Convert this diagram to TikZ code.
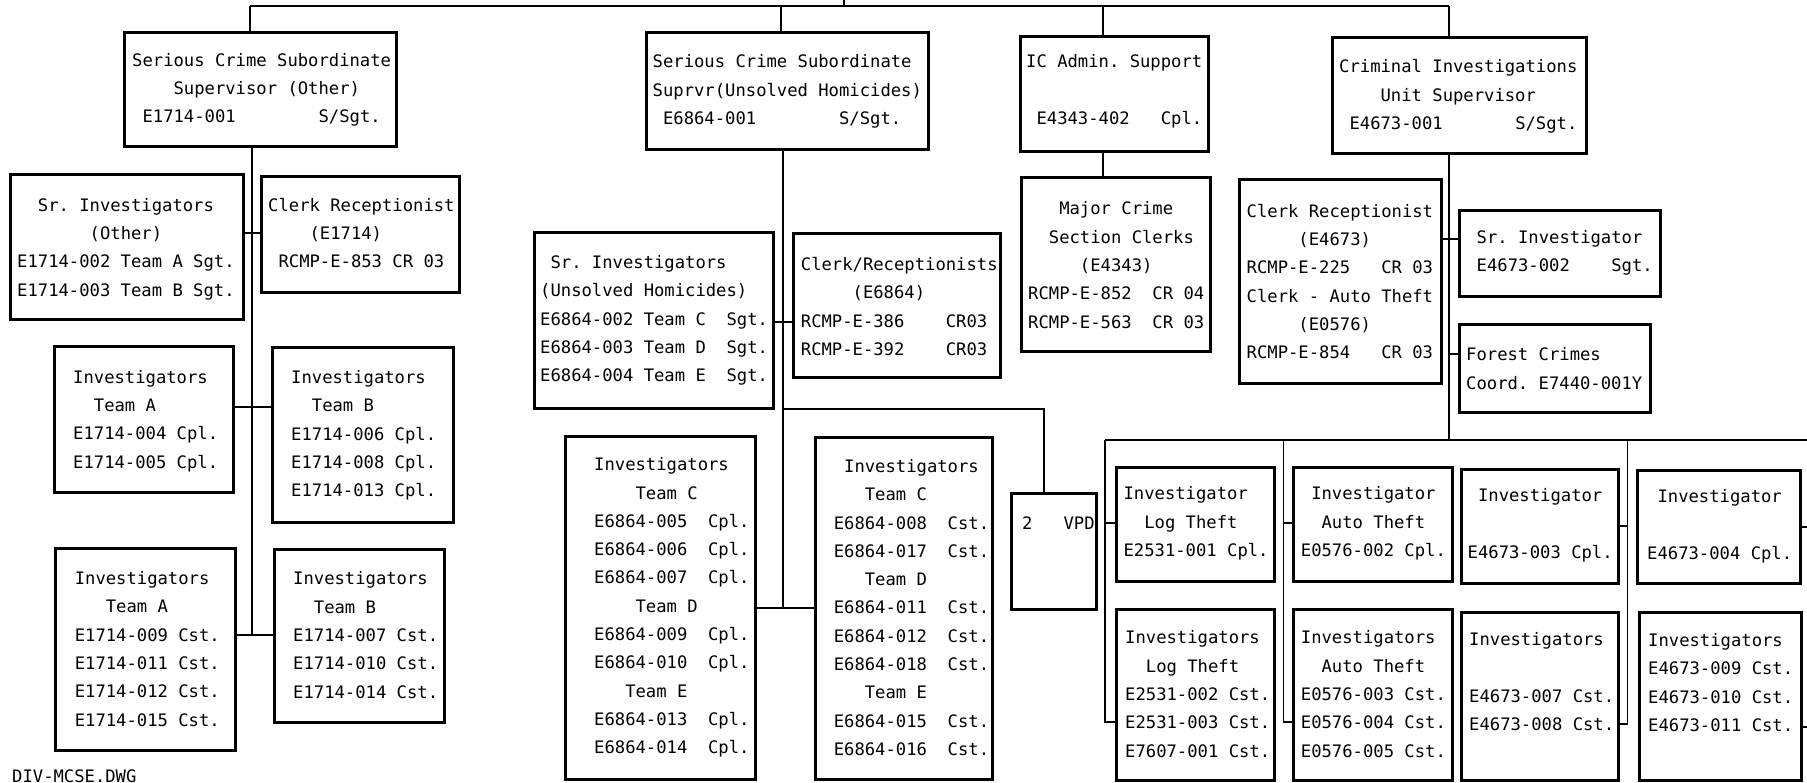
\documentclass[tikz,border=0pt]{standalone}
\usepackage{fontspec}
\newfontfamily\zmono{DejaVu Sans Mono}
\newcommand\zfnt{\zmono\fontsize{17.2}{28.3}\selectfont\frenchspacing}
\tikzset{
  bx/.style={draw, line width=3pt, inner sep=0pt, outer sep=0pt},
  tx/.style={anchor=west, align=left, inner sep=0pt, font=\zfnt},
  ln/.style={line width=1.2pt},
}
\newcommand\zbox[5]{%
  \pgfmathsetmacro\zbw{#4-#2}\pgfmathsetmacro\zbh{#5-#3}%
  \node[bx, minimum width=\zbw pt, minimum height=\zbh pt] (#1) at ({(#2+#4)/2},{(#3+#5)/2}) {};}
\newcommand\ztext[4]{\node[tx] (#1) at (#2,#3) {#4};}
\begin{document}
\begin{tikzpicture}[x=1pt,y=-1pt]
\useasboundingbox (0,0) rectangle (1807,783);
\fill[white] (0,0) rectangle (1807,783);

% ---------- boxes ----------
\zbox{sc1}{124}{33}{396}{147}
\zbox{sri1}{10}{175}{243}{320}
\zbox{clk1}{261}{177}{459}{293}
\zbox{ta1}{54}{347}{233}{492}
\zbox{tb1}{272}{348}{453}{522}
\zbox{ta2}{55}{548}{235}{750}
\zbox{tb2}{274}{549}{444}{722}
\zbox{sc2}{646}{33}{928}{150}
\zbox{sri2}{534}{233}{773}{408}
\zbox{clk2}{793}{234}{1000}{378}
\zbox{tc1}{565}{436}{755}{779}
\zbox{tc2}{815}{437}{992}{779}
\zbox{vpd}{1011}{493}{1096}{609}
\zbox{ic}{1020}{37}{1208}{152}
\zbox{mc}{1021}{178}{1210}{352}
\zbox{cis}{1332}{38}{1586}{154}
\zbox{clk3}{1239}{180}{1441}{384}
\zbox{sri3}{1459}{211}{1660}{297}
\zbox{fc}{1459}{325}{1650}{412}
\zbox{lt1}{1116}{467}{1274}{581}
\zbox{lt2}{1116}{609}{1274}{780}
\zbox{at1}{1293}{467}{1452}{581}
\zbox{at2}{1293}{609}{1452}{780}
\zbox{iva}{1461}{469}{1618}{583}
\zbox{ivb}{1461}{612}{1618}{780}
\zbox{iwa}{1637}{470}{1800}{583}
\zbox{iwb}{1639}{612}{1801}{780}

% ---------- texts ----------
\ztext{sc1t}{132}{90}{Serious Crime Subordinate\\~~~~Supervisor (Other)\\~E1714-001~~~~~~~~S/Sgt.}
\ztext{sri1t}{17}{249}{~~Sr. Investigators\\~~~~~~~(Other)\\E1714-002 Team A Sgt.\\E1714-003 Team B Sgt.}
\ztext{clk1t}{268}{233}{Clerk Receptionist\\~~~~(E1714)\\~RCMP-E-853 CR 03}
\ztext{ta1t}{73}{421}{Investigators\\~~Team A\\E1714-004 Cpl.\\E1714-005 Cpl.}
\ztext{tb1t}{291}{435.5}{Investigators\\~~Team B\\E1714-006 Cpl.\\E1714-008 Cpl.\\E1714-013 Cpl.}
\ztext{ta2t}{74.6}{649}{Investigators\\~~~Team A\\E1714-009 Cst.\\E1714-011 Cst.\\E1714-012 Cst.\\E1714-015 Cst.}
\ztext{tb2t}{293}{635}{Investigators\\~~Team B\\E1714-007 Cst.\\E1714-010 Cst.\\E1714-014 Cst.}
\ztext{sc2t}{652.5}{91.5}{Serious Crime Subordinate\\Suprvr(Unsolved Homicides)\\~E6864-001~~~~~~~~S/Sgt.}
\ztext{sri2t}{540}{320.5}{~Sr. Investigators\\(Unsolved Homicides)\\E6864-002 Team C~~Sgt.\\E6864-003 Team D~~Sgt.\\E6864-004 Team E~~Sgt.}
\ztext{clk2t}{800.7}{306.5}{Clerk/Receptionists\\~~~~~(E6864)\\RCMP-E-386~~~~CR03\\RCMP-E-392~~~~CR03}
\ztext{tc1t}{594}{607.5}{Investigators\\~~~~Team C\\E6864-005~~Cpl.\\E6864-006~~Cpl.\\E6864-007~~Cpl.\\~~~~Team D\\E6864-009~~Cpl.\\E6864-010~~Cpl.\\~~~Team E\\E6864-013~~Cpl.\\E6864-014~~Cpl.}
\ztext{tc2t}{833.6}{607.5}{~Investigators\\~~~Team C\\E6864-008~~Cst.\\E6864-017~~Cst.\\~~~Team D\\E6864-011~~Cst.\\E6864-012~~Cst.\\E6864-018~~Cst.\\~~~Team E\\E6864-015~~Cst.\\E6864-016~~Cst.}
\ztext{vpdt}{1022}{523}{2~~~VPD}
\ztext{ict}{1026}{91.5}{IC Admin. Support\\[28.3pt]~E4343-402~~~Cpl.}
\ztext{mct}{1028}{265}{~~~Major Crime\\~~Section Clerks\\~~~~~(E4343)\\RCMP-E-852~~CR 04\\RCMP-E-563~~CR 03}
\ztext{cist}{1339}{96.5}{Criminal Investigations\\~~~~Unit Supervisor\\~E4673-001~~~~~~~S/Sgt.}
\ztext{clk3t}{1246.5}{281.5}{Clerk Receptionist\\~~~~~(E4673)\\RCMP-E-225~~~CR 03\\Clerk - Auto Theft\\~~~~~(E0576)\\RCMP-E-854~~~CR 03}
\ztext{sri3t}{1476.5}{253}{Sr. Investigator\\E4673-002~~~~Sgt.}
\ztext{fct}{1466}{368.5}{Forest Crimes\\Coord. E7440-001Y}
\ztext{lt1t}{1123.4}{523.5}{Investigator\\~~Log Theft\\E2531-001 Cpl.}
\ztext{lt2t}{1125}{694}{Investigators\\~~Log Theft\\E2531-002 Cst.\\E2531-003 Cst.\\E7607-001 Cst.}
\ztext{at1t}{1300.7}{523.5}{~Investigator\\~~Auto Theft\\E0576-002 Cpl.}
\ztext{at2t}{1300.7}{694}{Investigators\\~~Auto Theft\\E0576-003 Cst.\\E0576-004 Cst.\\E0576-005 Cst.}
\ztext{ivat}{1467.5}{525}{~Investigator\\[28.3pt]E4673-003 Cpl.}
\ztext{ivbt}{1469}{681.5}{Investigators\\[28.3pt]E4673-007 Cst.\\E4673-008 Cst.}
\ztext{iwat}{1647}{526.5}{~Investigator\\[28.3pt]E4673-004 Cpl.}
\ztext{iwbt}{1648}{682.5}{Investigators\\E4673-009 Cst.\\E4673-010 Cst.\\E4673-011 Cst.}
\node[tx, anchor=base west] (dwg) at (12,782) {DIV-MCSE.DWG};

% ---------- connectors ----------
\coordinate (topL) at (250,6);
\coordinate (topR) at (1449,6);
\coordinate (root) at (844,0);
\coordinate (v2) at (781,6);
\coordinate (v3) at (1103,6);
\draw[ln] (topL) -- (topR);
\draw[ln] (root) -- (root |- topL);
\draw[ln] (topL) -- (topL |- sc1.north);
\draw[ln] (v2) -- (v2 |- sc2.north);
\draw[ln] (v3) -- (v3 |- ic.north);
\draw[ln] (topR) -- (topR |- cis.north);

% left branch
\coordinate (k1) at (252,233);
\coordinate (k2) at (252,407);
\coordinate (k3) at (252,635);
\draw[ln] (k3 |- sc1.south) -- (k3);
\draw[ln] (sri1.east |- k1) -- (clk1.west |- k1);
\draw[ln] (ta1.east |- k2) -- (tb1.west |- k2);
\draw[ln] (ta2.east |- k3) -- (tb2.west |- k3);

% unsolved homicides branch
\coordinate (k4) at (783,322);
\coordinate (k5) at (783,409);
\coordinate (k6) at (1044,409);
\coordinate (s2b) at (783,608);
\draw[ln] (s2b |- sc2.south) -- (s2b);
\draw[ln] (sri2.east |- k4) -- (clk2.west |- k4);
\draw[ln] (k5) -- (k6) -- (k6 |- vpd.north);
\draw[ln] (tc1.east |- s2b) -- (tc2.west |- s2b);

% IC admin
\draw[ln] (v3 |- ic.south) -- (v3 |- mc.north);

% criminal investigations branch
\coordinate (s3b) at (1449,440);
\coordinate (k7) at (1449,239);
\coordinate (k8) at (1449,354);
\draw[ln] (topR |- cis.south) -- (s3b);
\draw[ln] (clk3.east |- k7) -- (sri3.west |- k7);
\draw[ln] (k8) -- (fc.west |- k8);

\coordinate (h1) at (1105,440);
\coordinate (hR) at (1807,440);
\draw[ln] (h1) -- (hR);
\coordinate (k9) at (1105,523);
\coordinate (lgb) at (1105,722);
\draw[ln] (h1) -- (lgb) -- (lt2.west |- lgb);
\draw[ln] (k9) -- (lt1.west |- k9);
\coordinate (au) at (1283.5,440);
\coordinate (k10) at (1283.5,523);
\coordinate (aub) at (1283.5,722);
\draw[ln] (au) -- (aub) -- (at2.west |- aub);
\draw[ln] (k10) -- (at1.west |- k10);
\coordinate (iv) at (1627.5,440);
\coordinate (k11) at (1627.5,526);
\coordinate (ivbb) at (1627.5,724);
\draw[ln] (iv) -- (ivbb) -- (ivb.east |- ivbb);
\draw[ln] (k11) -- (iva.east |- k11);
\coordinate (re1) at (1807,527);
\coordinate (re2) at (1807,727);
\draw[ln] (iwa.east |- re1) -- (re1);
\draw[ln] (iwb.east |- re2) -- (re2);
\end{tikzpicture}
\end{document}
